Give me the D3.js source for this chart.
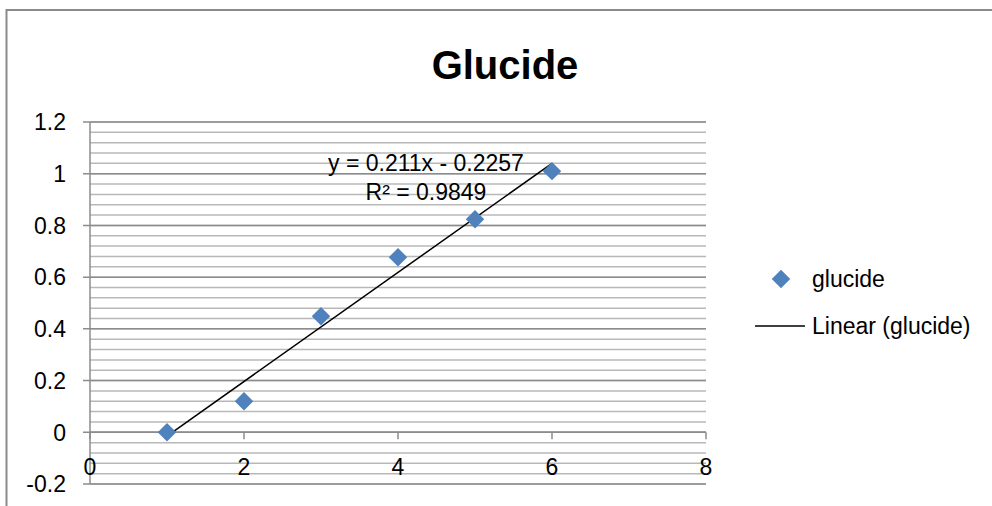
<!DOCTYPE html>
<html>
<head>
<meta charset="utf-8">
<script src="https://cdn.jsdelivr.net/npm/d3@7"></script>
<style>
  body { margin: 0; background: #fff; }
  text { font-family: "Liberation Sans", Arial, sans-serif; fill: #000; }
</style>
</head>
<body>
<div id="chart"></div>
<script>
// data
const xValues = [1, 2, 3, 4, 5, 6];
const yValues = [0, 0.12, 0.449, 0.677, 0.824, 1.01];
const xTicks = [0, 2, 4, 6, 8];
const yTicks = [-0.2, 0, 0.2, 0.4, 0.6, 0.8, 1, 1.2];
const slope = 0.211;
const intercept = -0.2257;
const equationLines = ["y = 0.211x - 0.2257", "R\u00B2 = 0.9849"];
const legendLabels = ["glucide", "Linear (glucide)"];

const width = 992;
const height = 506;
const blue = "#4F81BD";

const svg = d3.select("#chart").append("svg")
    .attr("width", width)
    .attr("height", height);

// chart area border (runs off the right and bottom)
svg.append("rect")
    .attr("x", 6.5).attr("y", 10)
    .attr("width", 1000).attr("height", 520)
    .attr("fill", "none")
    .attr("stroke", "#8a8a8a")
    .attr("stroke-width", 2);

svg.append("text")
    .attr("x", 505).attr("y", 79)
    .attr("text-anchor", "middle")
    .style("font-size", "40px")
    .style("font-weight", "bold")
    .text("Glucide");

const x = d3.scaleLinear().domain([0, 8]).range([90, 706]);
const y = d3.scaleLinear().domain([-0.2, 1.2]).range([484, 122]);

// minor + major horizontal gridlines
const minor = d3.range(0, 36).map(i => -0.2 + i * 0.04);
svg.append("g")
  .selectAll("line")
  .data(minor)
  .join("line")
    .attr("x1", x(0)).attr("x2", x(8))
    .attr("y1", d => y(d)).attr("y2", d => y(d))
    .attr("stroke", "#b8b8b8")
    .attr("stroke-width", 1.5);

svg.append("g")
  .selectAll("line")
  .data(yTicks)
  .join("line")
    .attr("x1", x(0) - 7).attr("x2", x(8))
    .attr("y1", d => y(d)).attr("y2", d => y(d))
    .attr("stroke", "#8c8c8c")
    .attr("stroke-width", 1.5);

// y axis
svg.append("line")
    .attr("x1", x(0)).attr("x2", x(0))
    .attr("y1", y(1.2)).attr("y2", y(-0.2))
    .attr("stroke", "#8c8c8c")
    .attr("stroke-width", 1.5);

svg.append("g")
  .selectAll("text")
  .data(yTicks)
  .join("text")
    .attr("x", 66)
    .attr("y", d => y(d))
    .attr("dy", "0.36em")
    .attr("text-anchor", "end")
    .style("font-size", "23px")
    .text(d => String(+d.toFixed(1)));

// x axis crosses at y = 0
svg.append("line")
    .attr("x1", x(0)).attr("x2", x(8))
    .attr("y1", y(0)).attr("y2", y(0))
    .attr("stroke", "#8c8c8c")
    .attr("stroke-width", 1.5);

svg.append("g")
  .selectAll("line")
  .data(xTicks)
  .join("line")
    .attr("x1", d => x(d)).attr("x2", d => x(d))
    .attr("y1", y(0)).attr("y2", y(0) + 7)
    .attr("stroke", "#8c8c8c")
    .attr("stroke-width", 1.5);

svg.append("g")
  .selectAll("text")
  .data(xTicks)
  .join("text")
    .attr("x", d => x(d))
    .attr("y", 475)
    .attr("text-anchor", "middle")
    .style("font-size", "23px")
    .text(d => d);

// linear trendline
svg.append("line")
    .attr("x1", x(d3.min(xValues))).attr("y1", y(slope * d3.min(xValues) + intercept))
    .attr("x2", x(d3.max(xValues))).attr("y2", y(slope * d3.max(xValues) + intercept))
    .attr("stroke", "#000")
    .attr("stroke-width", 1.5);

// markers
const diamond = d3.symbol().type(d3.symbolSquare).size(170);
svg.append("g")
  .selectAll("path")
  .data(xValues.map((v, i) => [v, yValues[i]]))
  .join("path")
    .attr("d", diamond)
    .attr("transform", d => `translate(${x(d[0])},${y(d[1])}) rotate(45)`)
    .attr("fill", blue);

// equation label
svg.append("g")
  .selectAll("text")
  .data(equationLines)
  .join("text")
    .attr("x", 426)
    .attr("y", (d, i) => 171 + i * 29)
    .attr("text-anchor", "middle")
    .style("font-size", "23px")
    .text(d => d);

// legend
svg.append("path")
    .attr("d", diamond)
    .attr("transform", "translate(781,279) rotate(45)")
    .attr("fill", blue);
svg.append("line")
    .attr("x1", 755).attr("x2", 805)
    .attr("y1", 326).attr("y2", 326)
    .attr("stroke", "#000")
    .attr("stroke-width", 1.5);
svg.append("g")
  .selectAll("text")
  .data(legendLabels)
  .join("text")
    .attr("x", 812)
    .attr("y", (d, i) => 287 + i * 47)
    .style("font-size", "23px")
    .text(d => d);
</script>
</body>
</html>
